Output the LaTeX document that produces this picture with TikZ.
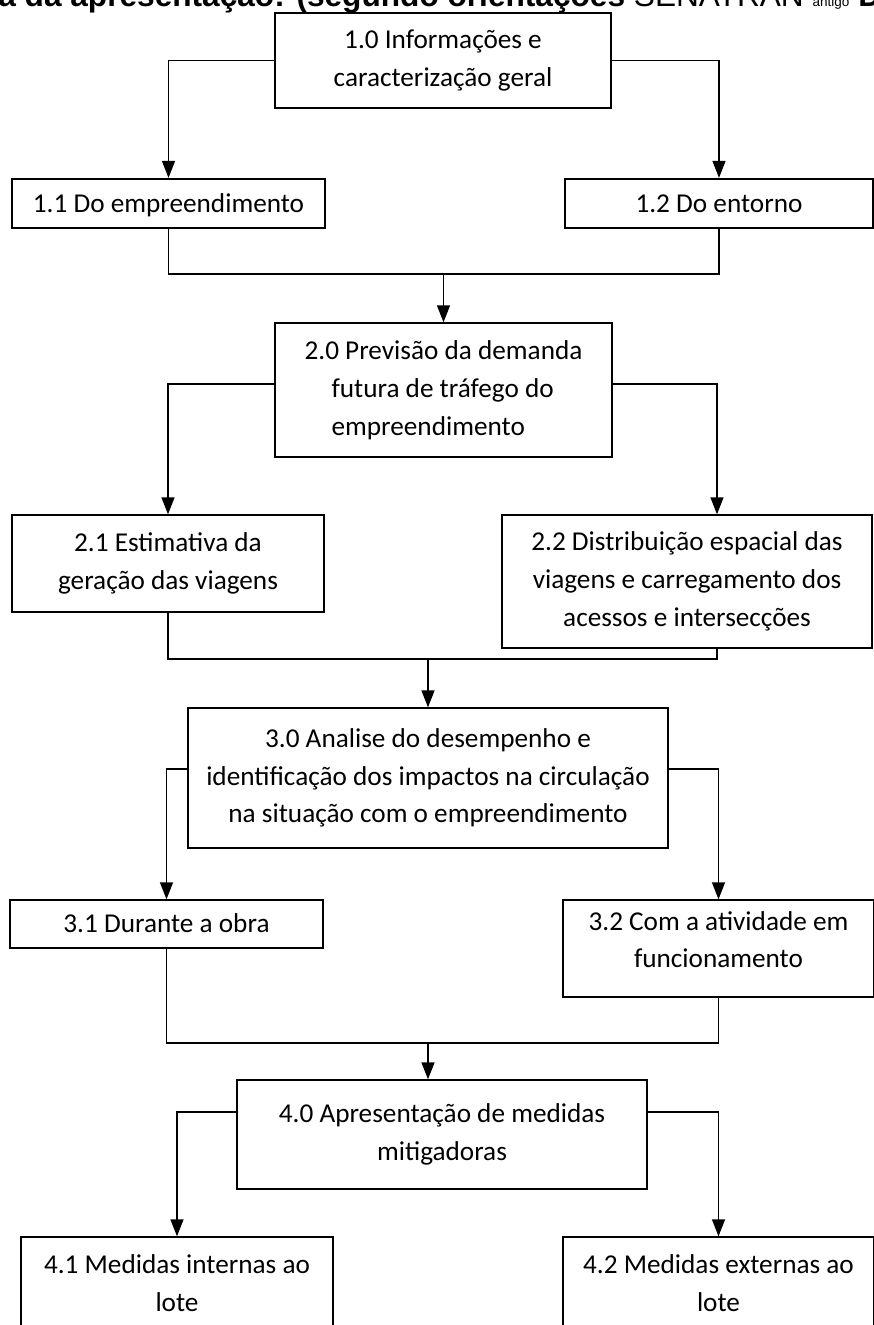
\documentclass[tikz,border=0pt]{standalone}
\usepackage{fontspec}
\setmainfont{Carlito}
\newfontfamily\headfont{Liberation Sans}
\usetikzlibrary{arrows.meta}

\begin{document}
\begin{tikzpicture}[
    x=0.02cm, y=-0.02cm,
    box/.style={draw, line width=0.8pt, align=center, inner sep=0pt,
                font=\fontsize{15.5}{21.5}\selectfont},
    boxthick/.style={box, line width=1.3pt},
    oneline/.style={text height=1.0em, text depth=0em},
    conn/.style={line width=0.8pt},
    arr/.style={conn, -{Triangle[length=0.34cm, width=0.26cm]}},
    head/.style={font=\headfont\bfseries\fontsize{18}{22}\selectfont,
                 inner sep=0pt}
  ]
  \useasboundingbox (0,0) rectangle (874,1325);

  \node[head, anchor=base west] (titulo) at (-2, 7)
    {a da apresentação: (segundo orientações {\mdseries SENATRAN}
     {\mdseries\fontsize{7.7}{9}\selectfont antigo} DE};

  \node[box, minimum width=6.72cm, minimum height=1.9cm] (b10) at (443, 60.5)
    {1.0 Informações e\\caracterização geral};
  \node[boxthick, oneline, minimum width=6.26cm, minimum height=0.98cm] (b11) at (168.5, 203.5)
    {1.1 Do empreendimento};
  \node[boxthick, oneline, minimum width=6.16cm, minimum height=0.98cm] (b12) at (719, 203.5)
    {1.2 Do entorno};

  \node[box, align=left, minimum width=6.74cm, minimum height=2.68cm] (b20) at (443.5, 390)
    {2.0 Previsão da demanda\\\hspace*{0.54cm}futura de tráfego do\\\hspace*{0.54cm}empreendimento};
  \node[box, minimum width=6.24cm, minimum height=1.94cm] (b21) at (168, 563.5)
    {2.1 Estimativa da\\geração das viagens};
  \node[box, minimum width=7.4cm, minimum height=2.66cm] (b22) at (687, 581.5)
    {2.2 Distribuição espacial das\\viagens e carregamento dos\\acessos e intersecções};

  \node[box, minimum width=9.6cm, minimum height=2.8cm] (b30) at (428, 778)
    {3.0 Analise do desempenho e\\identificação dos impactos na circulação\\na situação com o empreendimento};
  \node[box, oneline, minimum width=6.26cm, minimum height=0.96cm] (b31) at (166.5, 924)
    {3.1 Durante a obra};
  \node[box, text depth=0.36cm, minimum width=6.22cm, minimum height=1.94cm] (b32) at (718.5, 948.5)
    {3.2 Com a atividade em\\funcionamento};

  \node[box, minimum width=8.2cm, minimum height=2.18cm] (b40) at (442, 1134.5)
    {4.0 Apresentação de medidas\\mitigadoras};
  \node[box, minimum width=6.24cm, minimum height=1.84cm] (b41) at (177, 1283)
    {4.1 Medidas internas ao\\lote};
  \node[box, minimum width=6.22cm, minimum height=1.84cm] (b42) at (718.5, 1283)
    {4.2 Medidas externas ao\\lote};

  \coordinate (j1) at (443.5, 274);
  \coordinate (j2) at (428, 659);
  \coordinate (j3) at (428, 1043);

  \draw[arr] (b10.west) -| (b11.north);
  \draw[arr] (b10.east) -| (b12.north);
  \draw[conn] (b11.south) |- (j1) -| (b12.south);
  \draw[arr] (j1) -- (b20.north);

  \draw[arr] ([yshift=0.12cm]b20.west) -| (b21.north);
  \draw[arr] ([yshift=0.12cm]b20.east) -| ([xshift=0.6cm]b22.north);
  \draw[conn] (b21.south) |- (j2) -| ([xshift=0.6cm]b22.south);
  \draw[arr] (j2) -- (b30.north);

  \draw[arr] ([yshift=0.18cm]b30.west) -| (b31.north);
  \draw[arr] ([yshift=0.18cm]b30.east) -| (b32.north);
  \draw[conn] (b31.south) |- (j3) -| (b32.south);
  \draw[arr] (j3) -- (j3 |- b40.north);

  \draw[arr] ([yshift=0.45cm]b40.west) -| (b41.north);
  \draw[arr] ([yshift=0.45cm]b40.east) -| (b42.north);
\end{tikzpicture}
\end{document}
